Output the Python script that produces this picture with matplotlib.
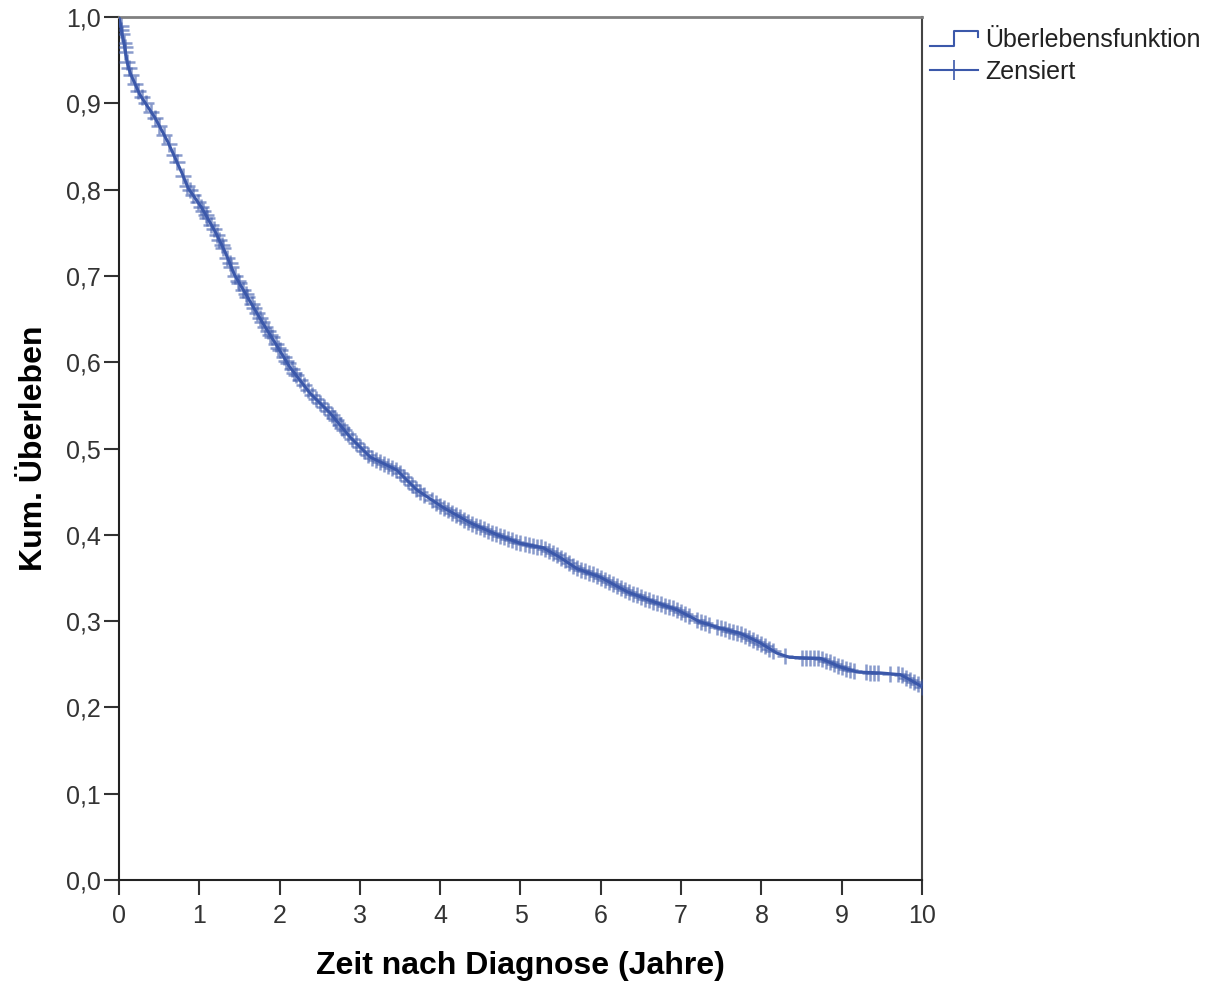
import numpy as np
import matplotlib
matplotlib.use("Agg")
import matplotlib.pyplot as plt
from matplotlib.lines import Line2D
from matplotlib.legend_handler import HandlerBase

# Kaplan-Meier Kurve, Werte
zeit = [0.0, 0.02, 0.05, 0.075, 0.1, 0.14, 0.26, 0.45, 0.61, 0.78, 0.86, 1.03,
        1.2, 1.32, 1.44, 1.61, 1.78, 1.94, 2.13, 2.38, 2.63, 2.88, 3.13, 3.46,
        3.71, 4.03, 4.37, 4.71, 5.0, 5.28, 5.49, 5.7, 5.99, 6.33, 6.61, 6.95,
        7.24, 7.48, 7.73, 7.98, 8.19, 8.35, 8.73, 8.98, 9.19, 9.48, 9.73, 9.85, 10.0]
ueberleben = [1.0, 0.99, 0.975, 0.963, 0.948, 0.935, 0.91, 0.883, 0.855, 0.82, 0.802, 0.779,
              0.751, 0.728, 0.701, 0.674, 0.647, 0.623, 0.594, 0.564, 0.541, 0.513, 0.49, 0.475,
              0.452, 0.432, 0.414, 0.4, 0.39, 0.385, 0.374, 0.361, 0.351, 0.334, 0.324, 0.313,
              0.299, 0.292, 0.286, 0.275, 0.263, 0.258, 0.257, 0.247, 0.241, 0.24, 0.238, 0.232, 0.224]

# Zensierte Faelle (Zeitpunkte)
zensiert = [0.02, 0.04, 0.06, 0.08, 0.1, 0.12, 0.15, 0.2, 0.28, 0.33, 0.45, 0.5, 0.62, 0.68,
            0.8, 0.85, 0.88, 0.98, 1.02, 1.05, 1.1, 1.18, 1.22, 1.28, 1.3, 1.35, 1.4, 1.45,
            1.5, 1.55, 1.6, 1.65, 1.72, 1.78, 1.85, 1.9, 1.95, 2.0, 2.05, 2.1, 2.15, 2.2,
            2.3, 2.4, 2.45, 2.5, 2.6, 2.65, 2.7, 2.75, 2.8, 2.85, 2.9, 3.0, 3.1, 3.2, 3.3,
            3.4, 3.45, 3.5, 3.6, 3.7, 3.8, 3.9, 4.0, 4.05, 4.1, 4.2, 4.3, 4.4, 4.5, 4.6,
            4.7, 4.75, 4.8, 4.9, 5.0, 5.05, 5.1, 5.2, 5.25, 5.3, 5.35, 5.4, 5.5, 5.6, 5.7,
            5.8, 5.9, 5.95, 6.0, 6.1, 6.2, 6.3, 6.35, 6.4, 6.5, 6.55, 6.6, 6.7, 6.8, 6.85,
            6.9, 7.0, 7.05, 7.2, 7.3, 7.45, 7.5, 7.55, 7.6, 7.65, 7.75, 7.8, 7.85, 7.9,
            7.95, 8.0, 8.1, 8.3, 8.5, 8.55, 8.6, 8.65, 8.7, 8.75, 8.85, 8.9, 8.95, 9.0,
            9.05, 9.1, 9.3, 9.35, 9.4, 9.6, 9.7, 9.75, 9.85, 9.9, 10.0,
            0.03, 0.07, 0.24, 0.4, 0.56, 0.72, 0.92, 1.08, 1.15, 1.25, 1.38, 1.48, 1.58,
            1.68, 1.75, 1.82, 1.88, 1.98, 2.08, 2.18, 2.25, 2.35, 2.55, 2.68, 2.78, 2.95,
            3.05, 3.15, 3.25, 3.35, 3.55, 3.65, 3.75, 3.95, 4.15, 4.25, 4.35, 4.45, 4.55,
            4.65, 4.85, 4.95, 5.15, 5.45, 5.55, 5.65, 5.75, 5.85, 6.05, 6.15, 6.25, 6.45,
            6.65, 6.75, 6.95, 7.1, 7.25, 7.35, 7.7, 8.05, 8.15, 8.8, 9.15, 9.45, 9.8, 9.95]

x_ticks = list(range(0, 11))
y_ticks = [0.0, 0.1, 0.2, 0.3, 0.4, 0.5, 0.6, 0.7, 0.8, 0.9, 1.0]
y_labels = ["0,0", "0,1", "0,2", "0,3", "0,4", "0,5", "0,6", "0,7", "0,8", "0,9", "1,0"]

farbe = "#3b58aa"

plt.rcParams["font.family"] = ["Liberation Sans", "DejaVu Sans"]


class StepHandler(HandlerBase):
    def create_artists(self, legend, orig_handle, xdescent, ydescent,
                       width, height, fontsize, trans):
        x0 = -xdescent
        y0 = -ydescent
        xs = [x0, x0 + 0.5 * width, x0 + 0.5 * width, x0 + width, x0 + width]
        ys = [y0 + 0.05 * height, y0 + 0.05 * height, y0 + 0.95 * height,
              y0 + 0.95 * height, y0 + 0.6 * height]
        ln = Line2D(xs, ys, color=farbe, lw=1.5, transform=trans)
        return [ln]


fig = plt.figure(figsize=(12.12, 9.85), dpi=100)
ax = fig.add_axes([0.0982, 0.1066, 0.6625, 0.8761])

ax.plot(zeit, ueberleben, color=farbe, lw=2.2, zorder=3)
zens_y = np.interp(zensiert, zeit, ueberleben)
ax.plot(zensiert, zens_y, linestyle="none", marker="+", markersize=11,
        mew=1.8, color=farbe, alpha=0.6, zorder=4)

ax.set_xlim(0, 10)
ax.set_ylim(0, 1)
ax.set_xticks(x_ticks)
ax.set_yticks(y_ticks)
ax.set_yticklabels(y_labels)
ax.tick_params(axis="both", direction="out", length=11, width=1.5,
               color="#333333", labelsize=18, labelcolor="#333333")
ax.tick_params(axis="y", pad=2)
ax.tick_params(axis="x", pad=6)

for s in ["left", "bottom"]:
    ax.spines[s].set_color("#222222")
    ax.spines[s].set_linewidth(1.5)
ax.spines["top"].set_color("#808080")
ax.spines["top"].set_linewidth(2)
ax.spines["right"].set_color("#444444")
ax.spines["right"].set_linewidth(1.5)

ax.set_xlabel("Zeit nach Diagnose (Jahre)", fontsize=23, fontweight="bold", labelpad=17)
ax.set_ylabel("Kum. Überleben", fontsize=23, fontweight="bold", labelpad=12)

h1 = Line2D([], [], color=farbe)
h2 = Line2D([], [], color=farbe, marker="+", markersize=14, mew=1.2, lw=1.5)
leg = ax.legend([h1, h2], ["Überlebensfunktion", "Zensiert"],
                handler_map={h1: StepHandler()},
                loc="upper left", bbox_to_anchor=(0.996, 1.0), frameon=False,
                fontsize=18, handlelength=1.9, handletextpad=0.3,
                labelspacing=0.3, borderaxespad=0.2, borderpad=0.25)
for t in leg.get_texts():
    t.set_color("#222222")

fig.savefig("out.png", dpi=100)
